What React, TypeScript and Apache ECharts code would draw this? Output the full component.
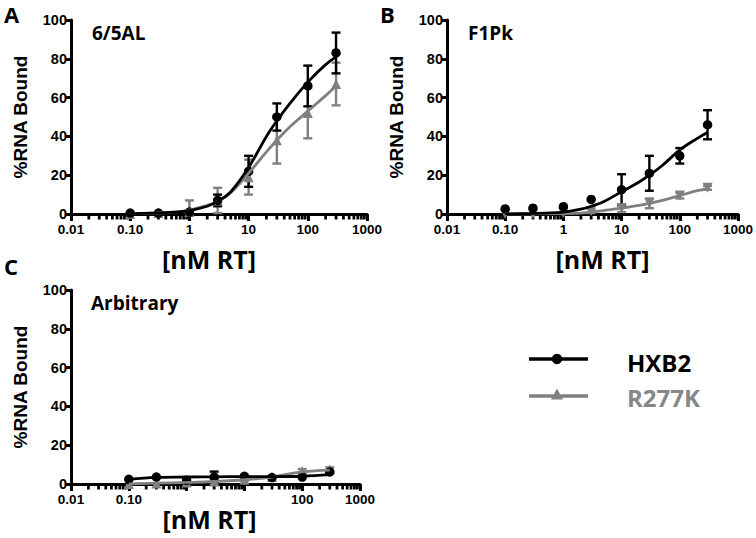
import React, { useEffect, useRef } from "react";
import * as echarts from "echarts";

// ---------- data ----------
const concentrations = [0.1, 0.3, 1, 3, 10, 30, 100, 300];
const fitX = [0.1, 0.2, 0.5, 1, 2, 3, 5, 10, 20, 30, 50, 100, 200, 300];

const xTickLabels = ["0.01", "0.10", "1", "10", "100", "1000"];
const xTickLabelsC = ["0.01", "0.10", "", "", "100", "1000"];

// Panel A: 6/5AL
const hxb2A = [0.5, 0.5, 1, 7, 22, 50, 66, 83];
const hxb2AErr = [0, 0, 0, 3, 8, 7, 10.5, 10.5];
const r277kA = [0, 0.5, 1, 7, 19, 38, 52, 67];
const r277kAErr = [0, 0, 6, 6.5, 9, 12, 13, 11];
const hxb2AFit = [0.2, 0.4, 0.8, 1.8, 4, 6.5, 11.5, 24, 40, 48, 57, 68, 77, 81];
const r277kAFit = [0.2, 0.4, 0.9, 2, 4.5, 6.5, 11, 21, 32, 38, 45, 53, 61, 66];

// Panel B: F1Pk
const hxb2B = [2.6, 3, 3.8, 7.5, 12.5, 21, 30, 46];
const hxb2BErr = [0, 0, 0, 0, 8, 9, 4, 7.5];
const r277kB = [0, 0, 0.5, 1.5, 3, 5.5, 9.5, 13.5];
const r277kBErr = [0, 0, 0, 1, 2, 2.5, 1.5, 1];
const hxb2BFit = [0.1, 0.2, 0.5, 1, 2.5, 4, 6.5, 11.5, 16.5, 20, 25, 33, 39, 42];
const r277kBFit = [0, 0, 0.1, 0.2, 0.5, 1, 1.8, 3, 4.5, 5.5, 7, 9.5, 12, 13];

// Panel C: Arbitrary
const hxb2C = [2.4, 3.6, 1.9, 3.6, 4, 3.3, 3.6, 6.2];
const hxb2CErr = [0, 0, 0, 2.8, 0, 0, 0, 0];
const r277kC = [0, 0.3, 0.8, 1.3, 2.2, 3.6, 6.7, 7.6];
const r277kCErr = [0, 0, 0, 1, 0.5, 0.5, 1, 1];
const hxb2CFit = [2.4, 3.4, 3.6, 3.7, 3.8, 3.8, 4.0, 4.8];
const r277kCFit = [0, 0.4, 0.8, 1.3, 2.2, 3.6, 6.3, 7.2];

const seriesNames = ["HXB2", "R277K"];
const panelTitles = ["6/5AL", "F1Pk", "Arbitrary"];
const panelLetters = ["A", "B", "C"];

const BLACK = "#000000";
const GRAY = "#808080";

const minorTickValues: number[] = [];
for (let d = -2; d <= 2; d++) {
  for (let k = 2; k <= 9; k++) minorTickValues.push(k * Math.pow(10, d));
}

function pairs(xs: number[], ys: number[]) {
  return xs.map((x, i) => [x, ys[i]]);
}
function triples(xs: number[], ys: number[], es: number[]) {
  return xs.map((x, i) => [x, ys[i], es[i]]);
}

function errorBarSeries(idx: number, data: number[][], color: string) {
  return {
    type: "custom",
    xAxisIndex: idx,
    yAxisIndex: idx,
    silent: true,
    clip: false,
    data,
    renderItem: (params: any, api: any) => {
      const x = api.value(0);
      const y = api.value(1);
      const e = api.value(2);
      if (!e) return { type: "group", children: [] };
      const top = api.coord([x, y + e]);
      const bot = api.coord([x, Math.max(0, y - e)]);
      const hw = 4.5;
      const st = { stroke: color, lineWidth: 2.4 };
      return {
        type: "group",
        children: [
          { type: "line", shape: { x1: top[0], y1: top[1], x2: bot[0], y2: bot[1] }, style: st },
          { type: "line", shape: { x1: top[0] - hw, y1: top[1], x2: top[0] + hw, y2: top[1] }, style: st },
          { type: "line", shape: { x1: bot[0] - hw, y1: bot[1], x2: bot[0] + hw, y2: bot[1] }, style: st },
        ],
      };
    },
  };
}

function minorTickSeries(idx: number) {
  return {
    type: "custom",
    xAxisIndex: idx,
    yAxisIndex: idx,
    silent: true,
    clip: false,
    z: 1,
    data: minorTickValues.map((v) => [v, 0]),
    renderItem: (params: any, api: any) => {
      const p = api.coord([api.value(0), 0]);
      return {
        type: "rect",
        shape: { x: p[0] - 1.4, y: p[1], width: 2.8, height: 5.5 },
        style: { fill: BLACK },
      };
    },
  };
}

function fitSeries(idx: number, xs: number[], ys: number[], color: string, name: string) {
  return {
    type: "line",
    name,
    xAxisIndex: idx,
    yAxisIndex: idx,
    data: pairs(xs, ys),
    smooth: 0.4,
    showSymbol: false,
    symbol: "none",
    lineStyle: { color, width: 2.8 },
    silent: true,
  };
}

function pointSeries(idx: number, ys: number[], color: string, symbol: string, name: string, rotate = 0) {
  return {
    type: "scatter",
    name,
    xAxisIndex: idx,
    yAxisIndex: idx,
    data: pairs(concentrations, ys),
    symbol,
    symbolSize: symbol === "circle" ? 9.5 : 10,
    symbolRotate: rotate,
    itemStyle: { color, opacity: 1 },
  };
}

function makeXAxis(idx: number, labels: string[], nameGap: number, shift: number) {
  return {
    type: "log",
    logBase: 10,
    gridIndex: idx,
    min: 0.01,
    max: 1000,
    name: "[nM RT]",
    nameLocation: "middle",
    nameGap,
    nameTextStyle: {
      fontFamily: "Open Sans",
      fontWeight: "bold",
      fontSize: 25,
      color: BLACK,
      padding: shift > 0 ? [0, shift * 2, 0, 0] : [0, 0, 0, -shift * 2],
    },
    axisLine: { show: true, onZero: false, lineStyle: { color: BLACK, width: 3 } },
    axisTick: { show: true, inside: false, length: 7, lineStyle: { color: BLACK, width: 3 } },
    minorTick: { show: false },
    splitLine: { show: false },
    axisLabel: {
      color: BLACK,
      fontFamily: "Liberation Sans",
      fontWeight: "bold",
      fontSize: 13.5,
      margin: 8,
      formatter: (v: number) => {
        const i = Math.round(Math.log10(v)) + 2;
        return labels[i] ?? "";
      },
    },
  };
}

function makeYAxis(idx: number) {
  return {
    type: "value",
    gridIndex: idx,
    min: 0,
    max: 100,
    interval: 20,
    name: "%RNA Bound",
    nameLocation: "middle",
    nameRotate: 90,
    nameGap: 41,
    nameTextStyle: { fontFamily: "Liberation Sans", fontWeight: "bold", fontSize: 19, color: BLACK },
    axisLine: { show: true, lineStyle: { color: BLACK, width: 3 } },
    axisTick: { show: true, inside: false, length: 6, lineStyle: { color: BLACK, width: 3 } },
    splitLine: { show: false },
    axisLabel: {
      color: BLACK,
      fontFamily: "Liberation Sans",
      fontWeight: "bold",
      fontSize: 14.5,
      margin: 4,
    },
  };
}

export default function App() {
  const ref = useRef<HTMLDivElement>(null);

  useEffect(() => {
    if (!ref.current) return;
    const chart = echarts.init(ref.current, undefined, { renderer: "svg" });

    const letterFont = 'bold 22px "Open Sans"';
    const titleFont = 'bold 19px "Open Sans"';
    const legendFont = 'bold 24px "Open Sans"';

    const option: any = {
      animation: false,
      backgroundColor: "#ffffff",
      grid: [
        { left: 71, top: 20, width: 296, height: 194 },
        { left: 447, top: 20, width: 292, height: 194 },
        { left: 71, top: 290, width: 289, height: 194 },
      ],
      xAxis: [
        makeXAxis(0, xTickLabels, 32, 10),
        makeXAxis(1, xTickLabels, 32, -10),
        makeXAxis(2, xTickLabelsC, 22, 6),
      ],
      yAxis: [makeYAxis(0), makeYAxis(1), makeYAxis(2)],
      series: [
        minorTickSeries(0),
        minorTickSeries(1),
        minorTickSeries(2),
        // Panel A
        fitSeries(0, fitX, r277kAFit, GRAY, seriesNames[1]),
        errorBarSeries(0, triples(concentrations, r277kA, r277kAErr), GRAY),
        pointSeries(0, r277kA, GRAY, "triangle", seriesNames[1]),
        fitSeries(0, fitX, hxb2AFit, BLACK, seriesNames[0]),
        errorBarSeries(0, triples(concentrations, hxb2A, hxb2AErr), BLACK),
        pointSeries(0, hxb2A, BLACK, "circle", seriesNames[0]),
        // Panel B
        fitSeries(1, fitX, r277kBFit, GRAY, seriesNames[1]),
        errorBarSeries(1, triples(concentrations, r277kB, r277kBErr), GRAY),
        pointSeries(1, r277kB, GRAY, "triangle", seriesNames[1], 180),
        fitSeries(1, fitX, hxb2BFit, BLACK, seriesNames[0]),
        errorBarSeries(1, triples(concentrations, hxb2B, hxb2BErr), BLACK),
        pointSeries(1, hxb2B, BLACK, "circle", seriesNames[0]),
        // Panel C
        fitSeries(2, concentrations, r277kCFit, GRAY, seriesNames[1]),
        errorBarSeries(2, triples(concentrations, r277kC, r277kCErr), GRAY),
        pointSeries(2, r277kC, GRAY, "triangle", seriesNames[1]),
        fitSeries(2, concentrations, hxb2CFit, BLACK, seriesNames[0]),
        errorBarSeries(2, triples(concentrations, hxb2C, hxb2CErr), BLACK),
        pointSeries(2, hxb2C, BLACK, "circle", seriesNames[0]),
      ],
      graphic: [
        { type: "text", x: 4, y: 14, style: { text: panelLetters[0], font: letterFont, fill: BLACK, textAlign: "left", textVerticalAlign: "middle" } },
        { type: "text", x: 380, y: 14, style: { text: panelLetters[1], font: letterFont, fill: BLACK, textAlign: "left", textVerticalAlign: "middle" } },
        { type: "text", x: 4, y: 266, style: { text: panelLetters[2], font: letterFont, fill: BLACK, textAlign: "left", textVerticalAlign: "middle" } },
        { type: "text", x: 92, y: 33, style: { text: panelTitles[0], font: titleFont, fill: BLACK, textAlign: "left", textVerticalAlign: "middle" } },
        { type: "text", x: 468, y: 33, style: { text: panelTitles[1], font: titleFont, fill: BLACK, textAlign: "left", textVerticalAlign: "middle" } },
        { type: "text", x: 91, y: 303, style: { text: panelTitles[2], font: titleFont, fill: BLACK, textAlign: "left", textVerticalAlign: "middle" } },
        // legend
        { type: "line", shape: { x1: 529, y1: 359, x2: 588, y2: 359 }, style: { stroke: BLACK, lineWidth: 3.5 } },
        { type: "circle", shape: { cx: 557, cy: 359, r: 5.2 }, style: { fill: BLACK } },
        { type: "text", x: 627, y: 362, style: { text: seriesNames[0], font: legendFont, fill: BLACK, textAlign: "left", textVerticalAlign: "middle" } },
        { type: "line", shape: { x1: 529, y1: 396, x2: 588, y2: 396 }, style: { stroke: GRAY, lineWidth: 3.5 } },
        { type: "polygon", shape: { points: [[557, 388.5], [551, 399.5], [563, 399.5]] }, style: { fill: GRAY } },
        { type: "text", x: 627, y: 397, style: { text: seriesNames[1], font: legendFont, fill: "#878787", textAlign: "left", textVerticalAlign: "middle" } },
      ],
    };

    chart.setOption(option);
    return () => chart.dispose();
  }, []);

  return (
    <div
      ref={ref}
      style={{ position: "fixed", left: 0, top: 0, width: 756, height: 538, background: "#fff" }}
    />
  );
}
